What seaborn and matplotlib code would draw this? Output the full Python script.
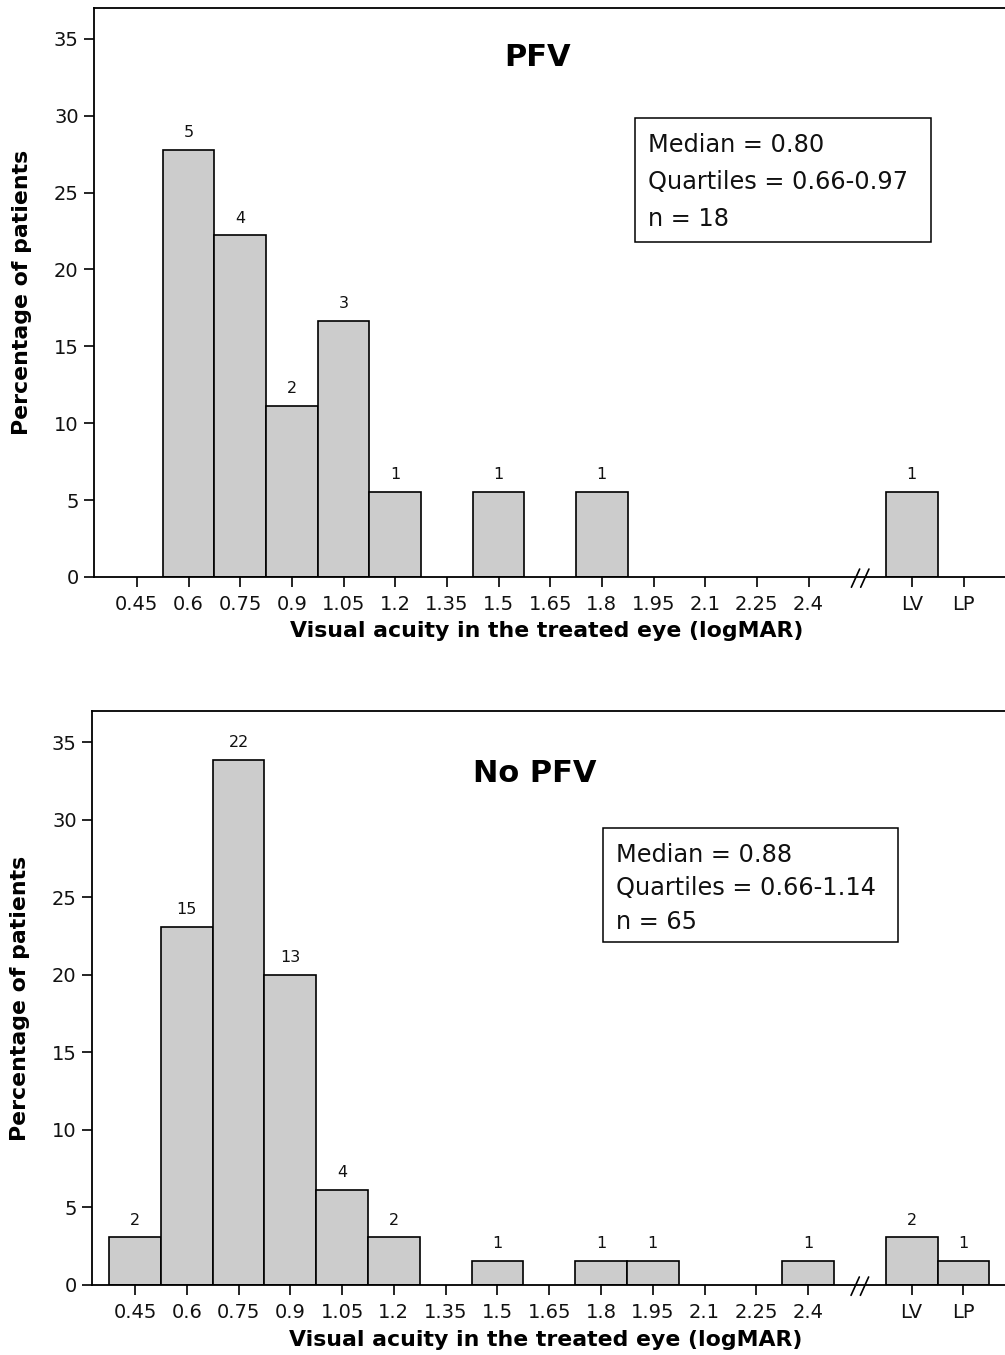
import matplotlib
matplotlib.use("Agg")
import matplotlib.pyplot as plt
import matplotlib.transforms as mtransforms
from matplotlib.patches import Rectangle
import pandas as pd
import seaborn as sns

# x categories (logMAR bins), with a gap before LV / LP
bin_labels = ['0.45', '0.6', '0.75', '0.9', '1.05', '1.2', '1.35', '1.5',
              '1.65', '1.8', '1.95', '2.1', '2.25', '2.4']
extra_labels = ['LV', 'LP']

# PFV panel: patients per bin
pfv_cats = ['0.6', '0.75', '0.9', '1.05', '1.2', '1.5', '1.8', 'LV']
pfv_counts = [5, 4, 2, 3, 1, 1, 1, 1]
pfv_n = 18
pfv_stats = ['Median = 0.80', 'Quartiles = 0.66-0.97', 'n = 18']

# No PFV panel
nopfv_cats = ['0.45', '0.6', '0.75', '0.9', '1.05', '1.2', '1.5', '1.8',
              '1.95', '2.4', 'LV', 'LP']
nopfv_counts = [2, 15, 22, 13, 4, 2, 1, 1, 1, 1, 2, 1]
nopfv_n = 65
nopfv_stats = ['Median = 0.88', 'Quartiles = 0.66-1.14', 'n = 65']

sns.set_style("white")
plt.rcParams['font.family'] = ['DejaVu Sans']
plt.rcParams['text.color'] = 'black'
plt.rcParams['axes.labelcolor'] = 'black'

W, H = 1005, 1355
fig = plt.figure(figsize=(W / 100, H / 100), dpi=100)

GAP = ' '
order = bin_labels + [GAP] + extra_labels


def px_axes(left, top, right, bottom):
    return [left / W, 1 - bottom / H, (right - left) / W, (bottom - top) / H]


def draw_panel(rect, cats, counts, n, title, title_xy, stats, box, spacing):
    ax = fig.add_axes(px_axes(*rect))
    df = pd.DataFrame({'cat': cats, 'count': counts})
    df['pct'] = df['count'] / n * 100
    sns.barplot(data=df, x='cat', y='pct', order=order, width=1.0,
                color='#cccccc', saturation=1, edgecolor='black',
                linewidth=1.2, errorbar=None, ax=ax)

    for cat, cnt, pct in zip(df['cat'], df['count'], df['pct']):
        ax.annotate(str(cnt), (order.index(cat), pct), xytext=(0, 7),
                    textcoords='offset points', ha='center', va='bottom',
                    fontsize=11.5, color='#111111')

    ax.set_ylim(0, 37)
    ax.set_yticks(range(0, 36, 5))
    ax.set_xlim(-0.83, 16.9)
    tick_pos = [order.index(c) for c in bin_labels + extra_labels]
    ax.set_xticks(tick_pos)
    ax.set_xticklabels(bin_labels + extra_labels)
    ax.tick_params(axis='both', direction='out', length=7, width=1.2,
                   labelsize=14, colors='black', labelcolor='#111111')
    ax.tick_params(axis='x', pad=6)
    ax.tick_params(axis='y', pad=4)
    ax.tick_params(left=True, bottom=True)
    for side in ['left', 'top', 'bottom']:
        ax.spines[side].set_color('black')
        ax.spines[side].set_linewidth(1.3)
    ax.spines['right'].set_visible(False)

    ax.set_ylabel('Percentage of patients', fontsize=15.8, fontweight='bold')
    ax.yaxis.set_label_coords(-0.068, 0.5)
    ax.set_xlabel('Visual acuity in the treated eye (logMAR)', fontsize=15.8,
                  fontweight='bold')
    ax.xaxis.set_label_coords(0.4945, -0.078)

    # axis break mark
    trans = mtransforms.blended_transform_factory(ax.transData, ax.transAxes)
    gx = order.index(GAP)
    for dx in (-0.09, 0.09):
        ax.plot([gx + dx - 0.08, gx + dx + 0.08], [-0.018, 0.014],
                color='black', lw=1.2, transform=trans, clip_on=False)

    fig.text(title_xy[0] / W, 1 - title_xy[1] / H, title, fontsize=22,
             fontweight='bold', ha='center', va='center')

    # stats box
    bl, bt, br, bb = box
    fig.patches.append(Rectangle((bl / W, 1 - bb / H), (br - bl) / W,
                                 (bb - bt) / H, transform=fig.transFigure,
                                 fc='white', ec='black', lw=1.1, zorder=3))
    fig.text((bl + 13) / W, 1 - (bt + 15) / H, '\n'.join(stats),
             fontsize=17.3, ha='left', va='top', linespacing=spacing,
             color='#111111', zorder=4)
    return ax


draw_panel((94, 8, 1010, 577), pfv_cats, pfv_counts, pfv_n, 'PFV', (538, 57),
           pfv_stats, (635, 118, 931, 242), 1.68)
draw_panel((92, 711, 1010, 1285), nopfv_cats, nopfv_counts, nopfv_n, 'No PFV',
           (535, 773), nopfv_stats, (603, 828, 898, 942), 1.5)

fig.savefig('out.png', dpi=100)
